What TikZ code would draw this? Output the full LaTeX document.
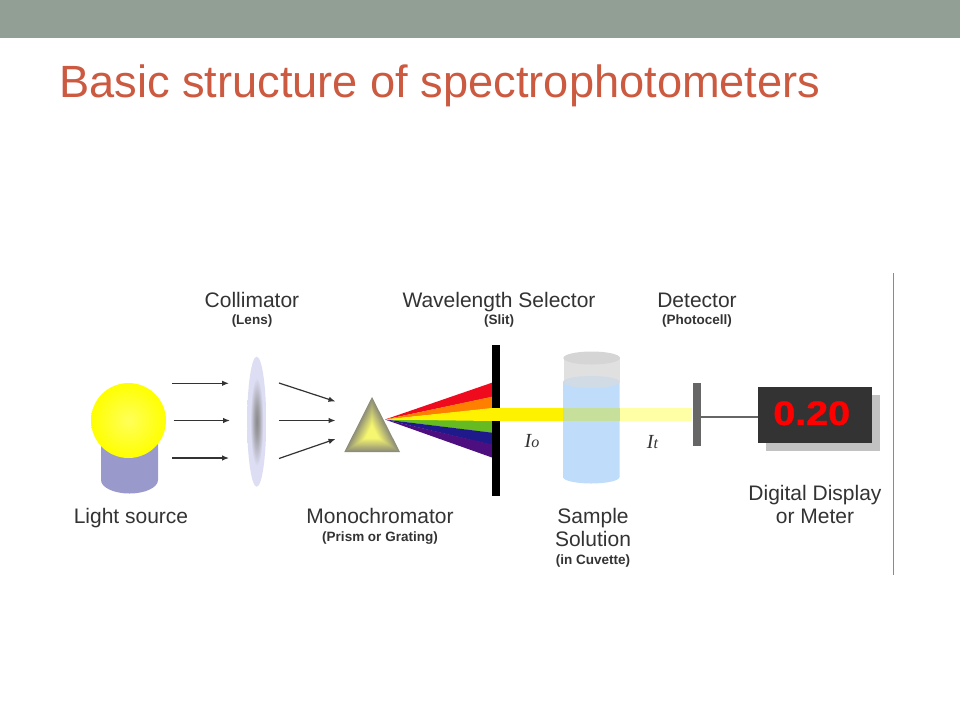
\documentclass[tikz,border=0pt]{standalone}
\usepackage{fontspec}
\setmainfont{Liberation Sans}
\newfontfamily\serifit{Liberation Serif}
\newfontfamily\valfont[BoldFeatures={FakeBold=1.2}]{Liberation Sans}
\usetikzlibrary{arrows.meta,calc}
\definecolor{bandc}{HTML}{919F94}
\definecolor{titlec}{HTML}{CB5A40}
\definecolor{labc}{HTML}{333333}
\definecolor{cyl}{HTML}{9999CC}
\definecolor{lensout}{HTML}{DDDDF4}
\definecolor{lensin}{HTML}{8A8A8A}
\definecolor{rulec}{HTML}{7A8EA2}
\definecolor{water}{HTML}{BFDDFB}
\definecolor{glass}{HTML}{E0E0E0}
\definecolor{watertop}{HTML}{D0DBE6}
\definecolor{beamin}{HTML}{C6E09C}
\definecolor{beampale}{HTML}{FFFFA6}
\definecolor{prismo}{HTML}{8C8C78}
\definecolor{prismi}{HTML}{F6F670}
\definecolor{specred}{HTML}{F00A1E}
\definecolor{specorange}{HTML}{FF7F00}
\definecolor{specgreen}{HTML}{66BB22}
\definecolor{specblue}{HTML}{1F1A8C}
\definecolor{specviolet}{HTML}{4D0F80}
\pgfdeclareradialshading{lensshade}{\pgfpointorigin}{
  color(0bp)=(lensin); color(6bp)=(lensin!75!lensout); color(17bp)=(lensout); color(50bp)=(lensout)}
\tikzset{
  big/.style={text=labc,inner sep=0pt,anchor=base,align=center,font=\fontsize{21}{25}\selectfont},
  small/.style={text=labc,inner sep=0pt,anchor=base,align=center,font=\fontsize{13.5}{16}\selectfont\bfseries},
  ray/.style={draw=black!80,line width=1.2pt,-{Latex[length=7pt,width=5.5pt]}},
  box/.style={inner sep=0pt,outer sep=0pt,rectangle},
  symb/.style={text=labc,inner sep=0pt,anchor=base}
}
\begin{document}
\begin{tikzpicture}[x=1pt,y=-1pt]
\useasboundingbox (0,0) rectangle (960,720);
\fill[white] (0,0) rectangle (960,720);
\fill[bandc] (0,0) rectangle (960,38);
\node[inner sep=0pt,anchor=base west,text=titlec,font=\fontsize{45.2}{56}\selectfont] (title) at (59,97.5) {Basic structure of spectrophotometers};
% vertical rule
\coordinate (ruleTop) at (893,273);
\coordinate (ruleBot) at (893,575);
\draw[rulec,line width=1pt] (ruleTop) -- (ruleBot);
% light source
\fill[cyl] (101,420) -- (158,420) -- (158,480) arc[start angle=0,end angle=180,x radius=28.5,y radius=13.5] -- cycle;
\shade[inner color=yellow!65,outer color=yellow] (128.5,420.5) circle[radius=37.5];
% lens
\shade[shading=lensshade] (256.7,421.7) ellipse[x radius=9.5,y radius=65];
% arrows
\coordinate (a1s) at (172,383.3); \coordinate (a1e) at (229,383.3);
\coordinate (a2s) at (173.5,420.5); \coordinate (a2e) at (230,420.5);
\coordinate (a3s) at (172,458); \coordinate (a3e) at (229,458);
\coordinate (b1s) at (279,383); \coordinate (b1e) at (335.5,401.5);
\coordinate (b2s) at (279,420.5); \coordinate (b2e) at (335.5,420.5);
\coordinate (b3s) at (279,458.5); \coordinate (b3e) at (335.5,439);
\foreach \p in {a1,a2,a3,b1,b2,b3} \draw[ray] (\p s) -- (\p e);
% prism
\foreach \t in {0,4,...,100}{
  \pgfmathsetmacro{\f}{1-\t/100}
  \pgfmathsetmacro{\m}{min(100,\t*1.35)}
  \colorlet{cc}{prismi!\m!prismo}
  \fill[cc] ($(372,434)!\f!(372,397)$) -- ($(372,434)!\f!(344.3,452)$) -- ($(372,434)!\f!(400,452)$) -- cycle;
}
% spectrum
\coordinate (apex) at (385,419.5);
\fill[specred] (apex) -- (492,382.7) -- (492,397) -- cycle;
\fill[specorange] (apex) -- (492,396.7) -- (492,408.5) -- cycle;
\fill[specgreen] (apex) -- (492,420) -- (492,433) -- cycle;
\fill[specblue] (apex) -- (492,432.7) -- (492,445) -- cycle;
\fill[specviolet] (apex) -- (492,444.5) -- (492,457.5) -- cycle;
\fill[yellow] (apex) -- (492,408) -- (492,421) -- cycle;
% slit
\node[box,fill=black,minimum width=8pt,minimum height=151pt] (slit) at (496.3,420.5) {};
% cuvette
\fill[glass] (563.5,358) -- (620,358) -- (620,382) -- (563.5,382) -- cycle;
\fill[glass!95!black] (591.7,358) ellipse[x radius=28.3,y radius=6.5];
\fill[water] (563,382) -- (619.5,382) -- (619.5,477) arc[start angle=0,end angle=180,x radius=28.25,y radius=6.5] -- cycle;
\fill[watertop] (591.3,382) ellipse[x radius=28.3,y radius=6];
% beam
\fill[yellow] (491,408) rectangle (563,420.7);
\fill[beamin] (563,408) rectangle (620,420.7);
\fill[beampale] (620,408) rectangle (692,420.7);
% detector and display
\node[box,fill=black!60,minimum width=8pt,minimum height=63pt] (det) at (697.2,414.5) {};
\fill[black!24] (765.5,395) rectangle (880,451);
\node[box,fill=black!80,minimum width=114.5pt,minimum height=56pt] (disp) at (815,415.3) {};
\coordinate (wire) at (701.2,417);
\draw[black!60,line width=1.2pt] (wire) -- (wire -| disp.west);
\node[inner sep=0pt,anchor=base,text=red,font=\fontsize{34}{40}\valfont\bfseries] (val) at (811.7,425) {\scalebox{1.16}[1]{0.20}};
% labels
\node[big] (l1) at (252,307) {Collimator};
\node[small] (l1b) at (252,324) {(Lens)};
\node[big] (l2) at (499,307) {Wavelength Selector};
\node[small] (l2b) at (499,324) {(Slit)};
\node[big] (l3) at (697,307) {Detector};
\node[small] (l3b) at (697,324.5) {(Photocell)};
\node[big] (l4) at (131,523) {Light source};
\node[big] (l5) at (380,523) {Monochromator};
\node[small] (l5b) at (380,541) {(Prism or Grating)};
\node[big] (l6) at (593,523) {Sample};
\node[big] (l6a) at (593,546) {Solution};
\node[small] (l6b) at (593,564) {(in Cuvette)};
\node[big] (l7) at (815,500) {Digital Display};
\node[big] (l7a) at (815,523) {or Meter};
\node[symb,font=\fontsize{20}{24}\selectfont] (io) at (532,447) {\serifit\itshape I\fontsize{16}{20}\selectfont o};
\node[symb,font=\fontsize{20}{24}\selectfont] (it) at (652.5,448) {\serifit\itshape I\fontsize{16}{20}\selectfont t};
\end{tikzpicture}
\end{document}
